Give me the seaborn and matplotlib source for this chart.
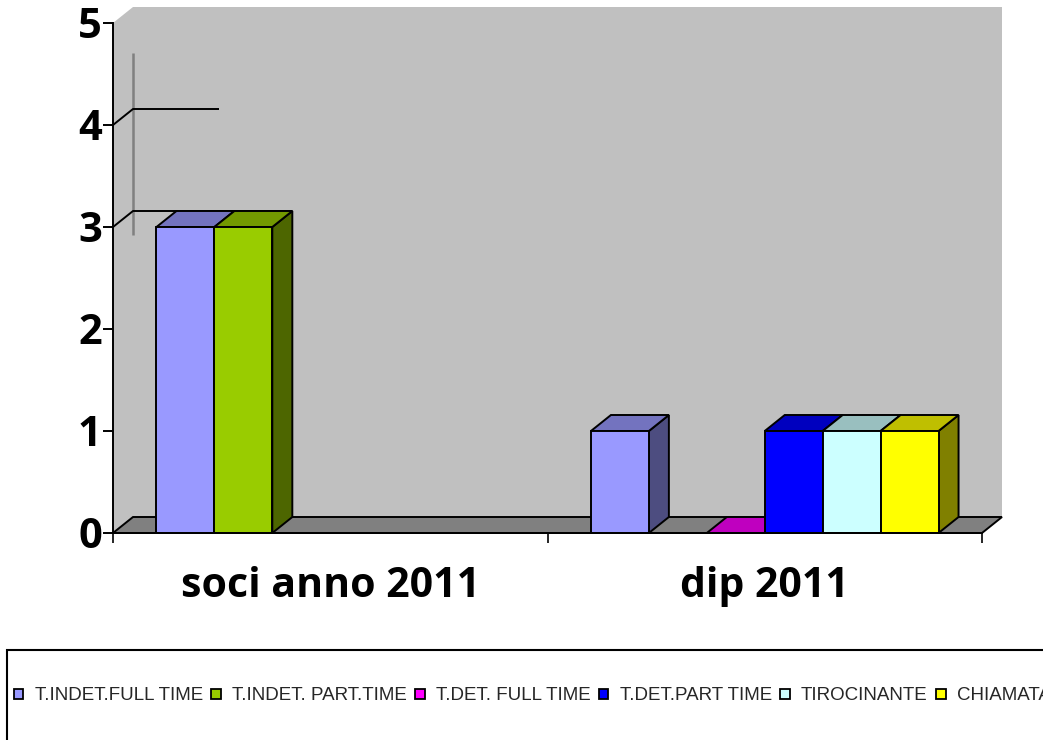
import numpy as np
import pandas as pd
import matplotlib
matplotlib.use("Agg")
import matplotlib.pyplot as plt
import seaborn as sns
from matplotlib.patches import Polygon, Rectangle, Patch
from matplotlib.colors import to_rgb

# ---------------- data ----------------
categories = ["soci anno 2011", "dip 2011"]
series = ["T.INDET.FULL TIME", "T.INDET. PART.TIME", "T.DET. FULL TIME",
          "T.DET.PART TIME", "TIROCINANTE", "CHIAMATA"]
soci_values = [3, 3, None, None, None, None]
dip_values = [1, None, 0, 1, 1, 1]
colors = ["#9999FF", "#99CC00", "#FF00FF", "#0000FF", "#CCFFFF", "#FFFF00"]
y_ticks = [0, 1, 2, 3, 4, 5]

rows = []
for cat, vals in zip(categories, [soci_values, dip_values]):
    for s, v in zip(series, vals):
        if v is not None:
            rows.append({"cat": cat, "serie": s, "val": v})
df = pd.DataFrame(rows)

# ---------------- style ----------------
sns.set_style("white")
plt.rcParams["font.family"] = ["Open Sans", "DejaVu Sans"]

W, H = 1043, 740
fig = plt.figure(figsize=(W / 100, H / 100), dpi=100)
x_left, x_right, y_base, y_top = 113, 982, 533, 23
ax = fig.add_axes([x_left / W, (H - y_base) / H, (x_right - x_left) / W, (y_base - y_top) / H])
ax.set_facecolor("none")

sns.barplot(data=df, x="cat", y="val", hue="serie", order=categories,
            hue_order=series, palette=dict(zip(series, colors)), width=0.8,
            edgecolor="black", linewidth=1.4, saturation=1, legend=False,
            errorbar=None, ax=ax)

ax.set_xlim(-0.5, 1.5)
ax.set_ylim(0, 5)

px_x = (x_right - x_left) / 2.0
px_y = (y_base - y_top) / 5.0
dxd = 20 / px_x
dyd = 16 / px_y
LW = 1.4

# walls and floor
wall = Polygon([(-0.5, 0), (-0.5, 5), (-0.5 + dxd, 5 + dyd), (1.5 + dxd, 5 + dyd),
                (1.5 + dxd, dyd), (-0.5 + dxd, dyd)],
               closed=True, fc="#C0C0C0", ec="none", zorder=0.2, clip_on=False)
floor = Polygon([(-0.5, 0), (1.5, 0), (1.5 + dxd, dyd), (-0.5 + dxd, dyd)],
                closed=True, fc="#808080", ec="black", lw=LW, zorder=0.3, clip_on=False)
bars = sorted(list(ax.patches), key=lambda p: p.get_x())
ax.add_patch(wall)
ax.add_patch(floor)

# bars: add top and side faces
h3_right = None
for i, p in enumerate(bars):
    x0, w, h = p.get_x(), p.get_width(), p.get_height()
    if np.isnan(h):
        continue
    fc = np.array(to_rgb(p.get_facecolor()))
    z = 2 + i * 0.1
    p.set_zorder(z + 0.05)
    p.set_clip_on(False)
    top = Polygon([(x0, h), (x0 + w, h), (x0 + w + dxd, h + dyd), (x0 + dxd, h + dyd)],
                  closed=True, fc=fc * 0.75, ec="black", lw=LW, zorder=z, clip_on=False)
    side = Polygon([(x0 + w, 0), (x0 + w + dxd, dyd), (x0 + w + dxd, h + dyd), (x0 + w, h)],
                   closed=True, fc=fc * 0.5, ec="black", lw=LW, zorder=z, clip_on=False)
    ax.add_patch(side)
    ax.add_patch(top)
    if h == 3:
        h3_right = x0 + w + dxd if h3_right is None else max(h3_right, x0 + w + dxd)

# partial gridlines (as in reference)
x_end4 = -0.5 + dxd + 86 / px_x
ax.plot([-0.5, -0.5 + dxd, x_end4], [4, 4 + dyd, 4 + dyd], color="black", lw=LW,
        zorder=0.5, clip_on=False, solid_capstyle="butt")
ax.plot([-0.5, -0.5 + dxd, h3_right], [3, 3 + dyd, 3 + dyd], color="black", lw=LW,
        zorder=0.5, clip_on=False, solid_capstyle="butt")
ax.plot([-0.5 + dxd, -0.5 + dxd], [(y_base - 53) / px_y, (y_base - 235) / px_y],
        color="#808080", lw=1.8, zorder=0.45, clip_on=False, solid_capstyle="butt")

# axes, ticks
for s in ["top", "right"]:
    ax.spines[s].set_visible(False)
for s in ["left", "bottom"]:
    ax.spines[s].set_visible(True)
    ax.spines[s].set_color("black")
    ax.spines[s].set_linewidth(LW)
    ax.spines[s].set_zorder(10)

ax.set_yticks(y_ticks)
ax.set_yticklabels([str(t) for t in y_ticks], fontsize=30, fontweight="bold")
ax.tick_params(axis="y", left=True, length=7, width=LW, direction="out", pad=1, colors="black")
ax.set_xticks([0, 1])
ax.set_xticklabels(categories, fontsize=29.5, fontweight="bold")
ax.set_xticks([-0.5, 0.5, 1.5], minor=True)
ax.tick_params(axis="x", which="major", bottom=True, length=0, pad=24, colors="black")
ax.tick_params(axis="x", which="minor", bottom=True, length=7, width=LW, direction="out")
ax.set_xlabel("")
ax.set_ylabel("")
ax.grid(False)

# legend
handles = [Patch(fc=c, ec="black", lw=1.3) for c in colors]
fig.legend(handles, series, loc="center left", bbox_to_anchor=(14 / W, (H - 696) / H),
           ncol=6, frameon=False, handlelength=0.5, handleheight=0.5,
           handletextpad=0.6, columnspacing=0.45, borderpad=0, borderaxespad=0,
           prop={"family": ["Liberation Sans", "DejaVu Sans"], "size": 13.5})
fig.add_artist(Rectangle((7 / W, -0.1), 1.2, (H - 650) / H + 0.1, transform=fig.transFigure,
                         fill=False, ec="black", lw=1.5))

fig.savefig("out.png", dpi=100)
